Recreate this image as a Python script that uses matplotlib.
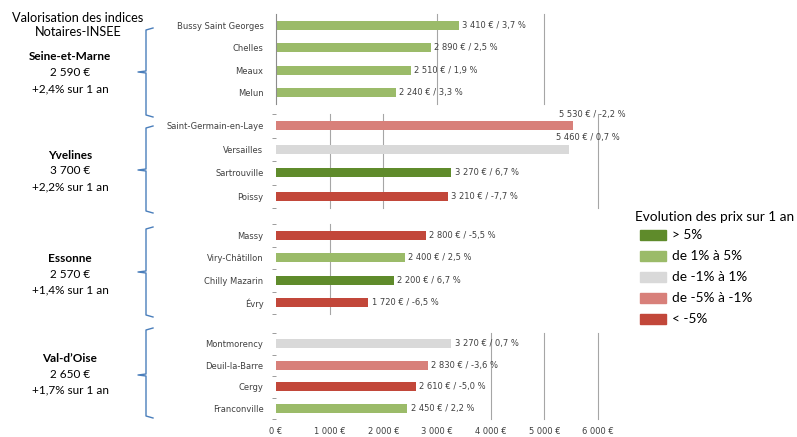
import matplotlib
matplotlib.use("Agg")
import matplotlib.pyplot as plt
from matplotlib.patches import Rectangle

# Données (prix au m2 et évolution sur 1 an)
departements = ["Seine-et-Marne", "Yvelines", "Essonne", "Val-d\u2019Oise"]
dep_prix = ["2 590 \u20ac", "3 700 \u20ac", "2 570 \u20ac", "2 650 \u20ac"]
dep_evol = ["+2,4% sur 1 an", "+2,2% sur 1 an", "+1,4% sur 1 an", "+1,7% sur 1 an"]

villes = [
    ["Bussy Saint Georges", "Chelles", "Meaux", "Melun"],
    ["Saint-Germain-en-Laye", "Versailles", "Sartrouville", "Poissy"],
    ["Massy", "Viry-Ch\u00e2tillon", "Chilly Mazarin", "\u00c9vry"],
    ["Montmorency", "Deuil-la-Barre", "Cergy", "Franconville"],
]
prix = [
    [3410, 2890, 2510, 2240],
    [5530, 5460, 3270, 3210],
    [2800, 2400, 2200, 1720],
    [3270, 2830, 2610, 2450],
]
evol = [
    [3.7, 2.5, 1.9, 3.3],
    [-2.2, 0.7, 6.7, -7.7],
    [-5.5, 2.5, 6.7, -6.5],
    [0.7, -3.6, -5.0, 2.2],
]

x_ticks = [0, 1000, 2000, 3000, 4000, 5000, 6000]
legende = ["> 5%", "de 1% \u00e0 5%", "de -1% \u00e0 1%", "de -5% \u00e0 -1%", "< -5%"]
couleurs = ["#5f8b2b", "#9bbb69", "#d9d9d9", "#d8807a", "#c2473a"]


def couleur(e):
    if e > 5:
        return couleurs[0]
    if e > 1:
        return couleurs[1]
    if e >= -1:
        return couleurs[2]
    if e > -5:
        return couleurs[3]
    return couleurs[4]


def fmt_euro(v):
    return f"{v:,}".replace(",", " ") + " \u20ac"


W, H = 797, 437
fig = plt.figure(figsize=(W / 100, H / 100), dpi=100)

# position des panneaux en pixels (haut, bas)
panneaux = [(14, 104), (114, 208), (224, 314), (333, 419)]
grilles = [[3000, 5000], [1000, 2000, 6000], [1000], [4000, 5000, 6000]]
x0, x1 = 276, 598

for k in range(4):
    top, bot = panneaux[k]
    ax = fig.add_axes([x0 / W, 1 - bot / H, (x1 - x0) / W, (bot - top) / H])
    n = len(villes[k])
    ys = list(range(n))
    ax.barh(ys, prix[k], height=0.4, color=[couleur(e) for e in evol[k]])
    ax.set_xlim(0, 6000)
    ax.set_ylim(n - 0.5, -0.5)
    for g in grilles[k]:
        ax.axvline(g, color="#a6a6a6", lw=0.8, zorder=0, clip_on=False)
    for y, v, e in zip(ys, prix[k], evol[k]):
        txt = f"{fmt_euro(v)} / {e:.1f} %".replace(".", ",")
        if v > 5000:
            ax.text(v - 250, y - 0.5, txt, fontsize=6, color="#404040",
                    va="center", ha="left")
        else:
            ax.text(v + 60, y, txt, fontsize=6, color="#404040",
                    va="center", ha="left")
    ax.set_yticks(ys)
    ax.set_yticklabels(villes[k], fontsize=6, color="#404040")
    ax.tick_params(axis="y", length=0, pad=9)
    for s in ["top", "right", "bottom", "left"]:
        ax.spines[s].set_visible(False)
    if k == 0:
        ax.spines["left"].set_visible(True)
        ax.spines["left"].set_color("#8c8c8c")
    else:
        ax.set_yticks([i - 0.5 for i in range(n + 1)], minor=True)
        ax.tick_params(axis="y", which="minor", length=3, color="#8c8c8c",
                       direction="out")
    if k == 3:
        ax.set_xticks(x_ticks)
        ax.set_xticklabels([fmt_euro(t) for t in x_ticks], fontsize=6,
                           color="#404040")
        ax.tick_params(axis="x", length=0, pad=6)
    else:
        ax.set_xticks([])

# texte de gauche
fonte = ["Lato", "DejaVu Sans"]


def ftxt(x, y, s, size=8.5, **kw):
    fig.text(x / W, 1 - y / H, s, ha="center", va="center",
             family=fonte, fontsize=size, **kw)


ftxt(78, 18, "Valorisation des indices", size=9.2)
ftxt(78, 32, "Notaires-INSEE", size=9.2)
centres = [73, 171, 274, 374]
for k in range(4):
    c = centres[k]
    ftxt(70, c - 16, departements[k], weight="bold")
    ftxt(70, c, dep_prix[k])
    ftxt(70, c + 16, dep_evol[k])

# accolades
accolades = [(28, 117, 72), (126, 213, 170), (227, 317, 272), (328, 418, 375)]
bleu = "#4a7ebb"
for a, b, m in accolades:
    xs = [153 / W, 146 / W, 146 / W, 138 / W, 146 / W, 146 / W, 153 / W]
    yy = [a, a + 2, m - 1, m, m + 1, b - 2, b]
    fig.add_artist(plt.Line2D(xs, [1 - v / H for v in yy], color=bleu, lw=1.0))

# légende
fig.text(635 / W, 1 - 217 / H, "Evolution des prix sur 1 an", family=fonte,
         fontsize=9.8, va="center", ha="left")
for i, (lab, col) in enumerate(zip(legende, couleurs)):
    yc = 235 + i * 21
    fig.add_artist(Rectangle((640 / W, 1 - (yc + 5) / H), 26 / W, 10 / H,
                             color=col, transform=fig.transFigure))
    fig.text(672 / W, 1 - yc / H, lab, family=fonte, fontsize=9.8,
             va="center", ha="left")

fig.savefig("out.png", dpi=100)
